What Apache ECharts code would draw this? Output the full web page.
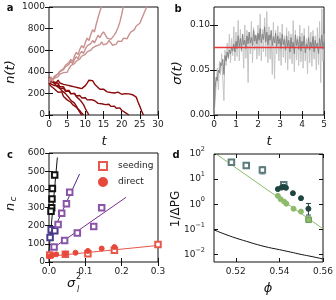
<!DOCTYPE html>
<html><head><meta charset="utf-8">
<script src="https://cdn.jsdelivr.net/npm/echarts@6/dist/echarts.min.js"></script>
<style>html,body{margin:0;padding:0;background:#fff}#c{width:336px;height:300px}</style>
</head><body><div id="c"></div>
<script>
// ---------- panel a: n(t) trajectories, sampled every aStep in t ----------
const aStep = 0.5;
const aRise1 = [300,335,310,352,338,382,405,388,430,458,440,488,515,496,545,580,560,610,642,620,672,712,690,745,790,768,840,900,960,1010];
const aRise2 = [325,352,330,360,344,378,402,384,420,445,428,470,496,476,512,540,520,566,590,570,612,640,622,660,690,668,702,738,716,748,770,742,712,730,700,716,742,770,810,860,930,1010];
const aRise3 = [305,330,312,340,322,356,378,360,392,410,396,430,458,440,476,498,482,520,546,528,562,584,566,600,622,604,640,628,652,676,650,636,662,690,668,646,630,656,684,700,682,712,730,706,742,768,752,790,824,806,850,890,930,970,1010];
const aFall1 = [295,268,280,240,252,210,198,214,172,160,140,150,118,96,108,72,56,40,18,0];
const aFall2 = [338,310,322,296,280,294,262,248,262,230,216,228,198,186,200,172,158,140,120,96,60,28,0];
const aFall3 = [310,288,300,272,258,276,246,232,248,220,206,222,196,184,200,176,166,180,158,146,160,140,128,142,124,134,120,108,122,104,112,96,86,100,80,70,82,62,54,66,44,34,22,12,0];
const aFall4 = [318,340,312,330,300,322,296,310,284,302,276,294,268,284,260,278,252,266,244,258,272,296,322,340,318,290,270,252,238,226,240,222,214,228,208,220,204,196,212,200,192,208,198,214,196,204,188,200,166,120,80,36,0];
const aFall5 = [352,318,330,292,270,284,246,226,238,200,182,160,136,148,110,84,52,24,0];

// ---------- panel b: sigma(t), sampled every bStep ----------
const bStep = 0.05;
const bDark = [0.000,0.030,0.042,0.038,0.050,0.047,0.058,0.055,0.062,0.045,0.066,0.060,0.070,0.064,0.072,0.068,0.075,0.071,0.079,0.070,
0.082,0.074,0.088,0.076,0.085,0.072,0.090,0.078,0.083,0.074,0.088,0.079,0.092,0.080,0.086,0.077,0.094,0.082,0.089,0.079,
0.091,0.083,0.096,0.080,0.090,0.084,0.098,0.081,0.092,0.078,0.089,0.083,0.094,0.077,0.087,0.080,0.091,0.076,0.088,0.079,
0.085,0.074,0.090,0.078,0.084,0.072,0.088,0.076,0.083,0.070,0.086,0.075,0.081,0.068,0.089,0.077,0.084,0.073,0.087,0.071,
0.082,0.076,0.088,0.069,0.079,0.074,0.086,0.072,0.081,0.075,0.087,0.070,0.083,0.076,0.080,0.068,0.085,0.074,0.089,0.073,0.082];
const bLight = [0.000,0.015,0.035,0.052,0.028,0.060,0.045,0.068,0.040,0.016,0.072,0.055,0.080,0.062,0.090,0.058,0.085,0.066,0.098,0.060,
0.092,0.065,0.105,0.060,0.095,0.070,0.088,0.052,0.100,0.063,0.094,0.036,0.092,0.068,0.104,0.058,0.097,0.072,0.088,0.062,
0.100,0.066,0.112,0.060,0.095,0.070,0.108,0.065,0.115,0.058,0.098,0.062,0.090,0.045,0.103,0.040,0.094,0.068,0.099,0.060,
0.092,0.055,0.101,0.064,0.088,0.058,0.097,0.050,0.093,0.062,0.090,0.057,0.105,0.048,0.094,0.061,0.088,0.055,0.100,0.059,
0.091,0.052,0.096,0.060,0.085,0.046,0.099,0.058,0.092,0.054,0.094,0.062,0.088,0.050,0.097,0.056,0.104,0.036,0.118,0.060,0.090];
const bMean = 0.075;

// ---------- panel c: n_c vs sigma_l^2 ----------
const cBlack = [[0.0156,479],[0.0093,405],[0.0082,347],[0.0074,298],[0.0055,280]];
const cBlackLine = [[0.0,60],[0.023,575]];
const cIndigo = [[0.003,135],[0.006,178],[0.016,172]];
const cPurpleSteep = [[0.025,207],[0.035,269],[0.048,320],[0.057,384]];
const cSteepLine = [[0.0,120],[0.084,484]];
const cPurpleFlat = [[0.014,82],[0.043,119],[0.078,159],[0.123,196],[0.145,298]];
const cFlatLine = [[0.002,64],[0.212,356]];
const cSeeding = [[0.002,38],[0.045,42],[0.107,46],[0.18,64],[0.30,97]];
const cDirect = [[0.002,31],[0.009,37],[0.02,42],[0.045,46],[0.073,51],[0.107,61],[0.145,74],[0.18,82]];
const cRedLine = [[0.0,31],[0.3,91]];

// ---------- panel d: 1/ΔPG vs phi ----------
const dCurvePhi = [0.51,0.515,0.52,0.525,0.53,0.535,0.54,0.545,0.55,0.555,0.56];
const dCurveVal = [0.095,0.064,0.045,0.033,0.0245,0.019,0.0155,0.0125,0.010,0.0082,0.0066];
const dGreenLine = [[0.5105,107],[0.56,0.105]];
// [phi, value, phiErr, low, high]
const dGraySq = [[0.518,47,0.001,38,56],[0.5248,35,0.001,29,42],[0.5322,23,0.001,16,31],[0.542,5.9,0.0008,4.8,7.2]];
const dGreenSq = [[0.5534,0.24,0.0012,0.19,0.31]];
const dDark = [[0.5393,4.0],[0.541,4.6],[0.542,5.0],[0.543,4.5],[0.5462,2.75],[0.5499,1.74],[0.5533,0.66]];
const dDarkErr = [[0.5533,0.66,0,0.37,1.07]];
const dGreen = [[0.5393,2.15],[0.5406,1.58],[0.5422,1.26],[0.5432,1.05],[0.5465,0.66],[0.5499,0.51]];
const dTicksY = [0.01,0.1,1,10,100];
const dTicksX = [0.52,0.54,0.56];

const FONT = 'DejaVu Sans';
const tick = {show:true, inside:true, length:4, lineStyle:{color:'#111', width:1}};
const lbl = {fontSize:9, fontFamily:FONT, color:'#222'};

function axisPair(kind, grid, common, labelExtra, tickExtra) {
  const pos = kind === 'x' ? ['bottom','top'] : ['left','right'];
  const main = Object.assign({gridIndex:grid, position:pos[0], axisLine:{show:false}, splitLine:{show:false},
    axisTick:Object.assign({}, tick, tickExtra||{}),
    axisLabel:Object.assign({}, lbl, {margin: kind==='x'?5:4, formatter:v=>String(v)}, labelExtra||{})}, common);
  const mirror = Object.assign({gridIndex:grid, position:pos[1], axisLine:{show:false}, splitLine:{show:false},
    axisTick:Object.assign({}, tick, tickExtra||{}), axisLabel:{show:false}}, common);
  return [main, mirror];
}

const grids = [
  {left:49, top:7, width:109, height:108},
  {left:214, top:7, width:110, height:108},
  {left:49, top:153, width:109, height:109},
  {left:214, top:154, width:109, height:108}
].map(g => Object.assign(g, {show:true, borderColor:'#111', borderWidth:1, backgroundColor:'transparent', outerBoundsMode:'none', containLabel:false}));

const xAxes = [].concat(
  axisPair('x',0,{type:'value',min:0,max:30,interval:5}),
  axisPair('x',1,{type:'value',min:0,max:5,interval:1}),
  axisPair('x',2,{type:'value',min:0,max:0.3,interval:0.1},{formatter:v=>v.toFixed(1)}),
  axisPair('x',3,{type:'value',min:0.51,max:0.56},{customValues:dTicksX,formatter:v=>v.toFixed(2)},{customValues:dTicksX})
);
const supMap = {'-2':'−2','-1':'−1','0':'0','1':'1','2':'2'};
const yAxes = [].concat(
  axisPair('y',0,{type:'value',min:0,max:1000,interval:200}),
  axisPair('y',1,{type:'value',min:0,max:0.12},{customValues:[0,0.05,0.1],formatter:v=>v.toFixed(2)},{customValues:[0,0.05,0.1]}),
  axisPair('y',2,{type:'value',min:0,max:600,interval:100}),
  axisPair('y',3,{type:'log',logBase:10,min:0.005,max:100},
    {customValues:dTicksY, margin:9, formatter:v=>'{b|10}{s|'+supMap[String(Math.round(Math.log10(v)))]+'}',
     rich:{b:{fontSize:9,fontFamily:FONT,color:'#222',lineHeight:16},s:{fontSize:6.5,fontFamily:FONT,color:'#222',verticalAlign:'top',lineHeight:8}}},
    {customValues:dTicksY})
);

function lineS(data, xi, yi, color, width, extra) {
  return Object.assign({type:'line', data:data, xAxisIndex:xi, yAxisIndex:yi, showSymbol:false, symbol:'none',
    lineStyle:{color:color, width:width}, itemStyle:{color:color}, animation:false, silent:true}, extra||{});
}
function scat(name, data, xi, yi, symbol, size, color, fill) {
  return {type:'scatter', name:name, data:data, xAxisIndex:xi, yAxisIndex:yi, symbol:symbol, symbolSize:size,
    itemStyle:{color: fill || color, borderColor:color, borderWidth:1, opacity:1}, animation:false, silent:true, z:5};
}
function errS(data, xi, yi, color) {
  return {type:'custom', data:data, xAxisIndex:xi, yAxisIndex:yi, animation:false, silent:true, z:4,
    renderItem:function(params, api){
      const x=api.value(0), y=api.value(1), dx=api.value(2), lo=api.value(3), hi=api.value(4);
      const ch=[];
      const st={stroke:color, lineWidth:1};
      if (dx>0){ const a=api.coord([x-dx,y]), b=api.coord([x+dx,y]);
        ch.push({type:'line',shape:{x1:a[0],y1:a[1],x2:b[0],y2:b[1]},style:st});
        ch.push({type:'line',shape:{x1:a[0],y1:a[1]-2,x2:a[0],y2:a[1]+2},style:st});
        ch.push({type:'line',shape:{x1:b[0],y1:b[1]-2,x2:b[0],y2:b[1]+2},style:st}); }
      const p=api.coord([x,lo]), q=api.coord([x,hi]);
      ch.push({type:'line',shape:{x1:p[0],y1:p[1],x2:q[0],y2:q[1]},style:st});
      ch.push({type:'line',shape:{x1:p[0]-2.5,y1:p[1],x2:p[0]+2.5,y2:p[1]},style:st});
      ch.push({type:'line',shape:{x1:q[0]-2.5,y1:q[1],x2:q[0]+2.5,y2:q[1]},style:st});
      return {type:'group', children:ch};
    }};
}
const tn = arr => arr.map((v,i)=>[i*aStep, v]);

const darkRed = '#8b0a0a', pink = '#c99190';
const series = [
  lineS(tn(aFall1),0,0,darkRed,1.4), lineS(tn(aFall2),0,0,darkRed,1.4), lineS(tn(aFall3),0,0,darkRed,1.4),
  lineS(tn(aFall4),0,0,darkRed,1.4), lineS(tn(aFall5),0,0,darkRed,1.4),
  lineS(tn(aRise1),0,0,pink,1.4,{z:3}), lineS(tn(aRise2),0,0,pink,1.4,{z:3}), lineS(tn(aRise3),0,0,pink,1.4,{z:3}),
  lineS(bLight.map((v,i)=>[i*bStep,v]),2,2,'#c4c4c4',1),
  lineS(bDark.map((v,i)=>[i*bStep,v]),2,2,'#868686',1),
  lineS([[0,bMean],[5,bMean]],2,2,'#e8393c',1.3,{z:10}),
  lineS(cBlackLine,4,4,'#111',1), lineS(cSteepLine,4,4,'#4a2a84',1), lineS(cFlatLine,4,4,'#7b2d8e',1),
  lineS(cRedLine,4,4,'#e8574a',1),
  scat('',cBlack,4,4,'emptyRect',5.5,'#111'),
  scat('',cIndigo,4,4,'emptyRect',5.5,'#4a3a8c'),
  scat('',cPurpleSteep,4,4,'emptyRect',5.5,'#8a55a8'),
  scat('',cPurpleFlat,4,4,'emptyRect',5.5,'#8a55a8'),
  scat('seeding',cSeeding,4,4,'emptyRect',5.5,'#e8574a'),
  scat('direct',cDirect,4,4,'circle',5,'#e8483b','#e8483b'),
  lineS(dCurvePhi.map((p,i)=>[p,dCurveVal[i]]),6,6,'#111',1,{smooth:true}),
  lineS(dGreenLine,6,6,'#8cbb6c',1),
  errS(dGraySq,6,6,'#5e7b7b'),
  scat('',dGraySq.map(d=>[d[0],d[1]]),6,6,'emptyRect',5.5,'#5e7b7b'),
  scat('',dDark,6,6,'circle',5,'#1f4541','#1f4541'),
  errS(dDarkErr,6,6,'#1f4541'),
  scat('',dGreen,6,6,'circle',5,'#8cbb6c','#8cbb6c'),
  errS(dGreenSq,6,6,'#6c9a55'),
  scat('',dGreenSq.map(d=>[d[0],d[1]]),6,6,'rect',5.5,'#6c9a55','#8cbb6c')
];

function txt(x,y,text,size,opt){
  return Object.assign({type:'text', x:x, y:y, silent:true,
    style:Object.assign({text:text, fontSize:size, fontFamily:FONT, fill:'#111', textAlign:'center', textVerticalAlign:'middle'}, (opt&&opt.style)||{})},
    opt ? {rotation:opt.rotation||0} : {});
}
const it = {style:{fontStyle:'italic'}};
const graphic = [
  txt(10,8,'a',10,{style:{fontWeight:'bold'}}),
  txt(178,9,'b',10,{style:{fontWeight:'bold'}}),
  txt(10,155,'c',10,{style:{fontWeight:'bold'}}),
  txt(176,155,'d',10,{style:{fontWeight:'bold'}}),
  txt(104,142,'t',13,it),
  {type:'text', x:11, y:72, rotation:Math.PI/2, silent:true, style:{text:'n(t)', fontSize:13, fontFamily:FONT, fontStyle:'italic', fill:'#111', textAlign:'center', textVerticalAlign:'middle'}},
  txt(269,142,'t',13,it),
  {type:'text', x:178, y:73, rotation:Math.PI/2, silent:true, style:{text:'σ(t)', fontSize:13, fontFamily:FONT, fontStyle:'italic', fill:'#111', textAlign:'center', textVerticalAlign:'middle'}},
  {type:'group', x:11, y:205, rotation:Math.PI/2, silent:true, children:[
    {type:'text', x:-2, y:0, style:{text:'n', fontSize:13, fontFamily:FONT, fontStyle:'italic', fill:'#111', textAlign:'center', textVerticalAlign:'middle'}},
    {type:'text', x:6, y:3, style:{text:'c', fontSize:9, fontFamily:FONT, fontStyle:'italic', fill:'#111', textAlign:'center', textVerticalAlign:'middle'}}
  ]},
  txt(71,284,'σ',13,it),
  txt(78.5,277,'2',8),
  txt(78,290,'l',8,it),
  {type:'text', x:176, y:209, rotation:Math.PI/2, silent:true, style:{text:'1/ΔPG', fontSize:12, fontFamily:FONT, fill:'#111', textAlign:'center', textVerticalAlign:'middle'}},
  txt(268,289,'ϕ',13,it)
];

const chart = echarts.init(document.getElementById('c'), null, {renderer:'canvas'});
chart.setOption({
  animation:false,
  backgroundColor:'#fff',
  grid:grids, xAxis:xAxes, yAxis:yAxes, series:series, graphic:graphic,
  legend:{data:['seeding','direct'], left:98, top:161, orient:'vertical', itemWidth:8, itemHeight:8, itemGap:6,
    textStyle:{fontSize:9, fontFamily:FONT, color:'#222', padding:[0,0,0,6]}, selectedMode:false, padding:0}
});
</script></body></html>
